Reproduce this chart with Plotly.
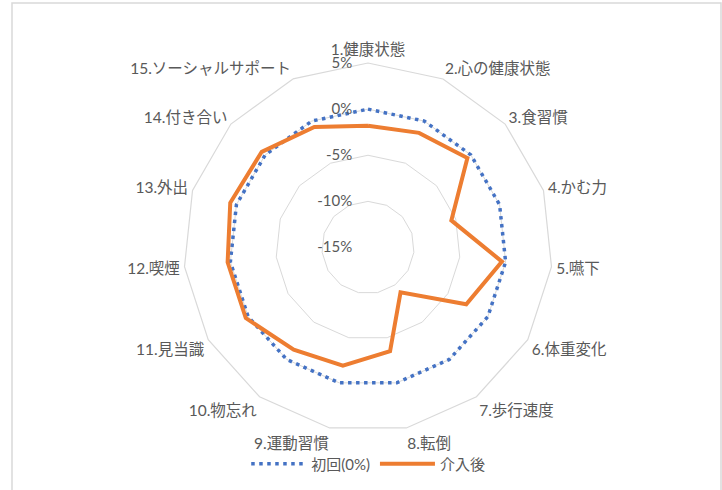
import plotly.graph_objects as go

# Survey items (15 axes of the radar)
categories = [
    "1.健康状態", "2.心の健康状態", "3.食習慣", "4.かむ力", "5.嚥下",
    "6.体重変化", "7.歩行速度", "8.転倒", "9.運動習慣", "10.物忘れ",
    "11.見当識", "12.喫煙", "13.外出", "14.付き合い", "15.ソーシャルサポート",
]
# Change from baseline, in percent
baseline = [0, 0, 0, 0, 0, 0, 0, 0, 0, 0, 0, 0, 0, 0, 0]
after = [-1.8, -1.4, -0.5, -5.5, -0.4, -2.7, -9.0, -3.5, -1.9, -1.3,
         0.3, 0.3, 0.7, 0.5, -0.7]
radial_ticks = [-15, -10, -5, 0, 5]
radial_ticktext = ["-15%", "-10%", "-5%", "0%", "5%"]
series_names = ["初回(0%)", "介入後"]

W, H = 722, 490
cx, cy, R = 368, 247.5, 184.5

FONT = "Lato, 'Noto Sans CJK JP', sans-serif"
GREY_TEXT = "#595959"
GRID = "#d9d9d9"


def closed(vals):
    return list(vals) + [vals[0]]


fig = go.Figure()
fig.add_trace(go.Scatterpolar(
    r=closed(baseline), theta=closed(categories), mode="lines",
    name=series_names[0],
    line=dict(color="#4472C4", width=3.5, dash="3.5px,4.5px"),
    hoverinfo="skip",
))
fig.add_trace(go.Scatterpolar(
    r=closed(after), theta=closed(categories), mode="lines",
    name=series_names[1],
    line=dict(color="#ED7D31", width=4),
    hoverinfo="skip",
))

fig.update_layout(
    width=W, height=H,
    margin=dict(l=0, r=0, t=0, b=0),
    paper_bgcolor="white",
    font=dict(family=FONT, color=GREY_TEXT, size=15),
    polar=dict(
        domain=dict(x=[(cx - R) / W, (cx + R) / W],
                    y=[1 - (cy + R) / H, 1 - (cy - R) / H]),
        gridshape="linear",
        bgcolor="white",
        radialaxis=dict(
            range=[-15, 5], tickvals=radial_ticks, ticktext=radial_ticktext,
            angle=90, tickangle=90, side="counterclockwise",
            showline=False, ticks="outside", ticklen=10,
            tickcolor="rgba(0,0,0,0)",
            gridcolor=GRID, gridwidth=1.2,
            tickfont=dict(size=15, color=GREY_TEXT, family=FONT),
        ),
        angularaxis=dict(
            direction="clockwise", rotation=90,
            showgrid=False, ticks="outside", ticklen=1,
            tickcolor="rgba(0,0,0,0)",
            showline=True, linecolor=GRID, linewidth=1.2,
            tickfont=dict(size=15.5, color=GREY_TEXT, family=FONT),
        ),
    ),
    showlegend=True,
    legend=dict(
        orientation="h", x=0.51, xanchor="center",
        y=1 - 464 / H, yanchor="middle",
        bgcolor="rgba(0,0,0,0)",
        font=dict(size=15, color=GREY_TEXT, family=FONT),
        itemwidth=55,
    ),
    shapes=[dict(
        type="rect", xref="paper", yref="paper",
        x0=12 / W, x1=721 / W, y0=-0.02, y1=1 - 3 / H,
        line=dict(color=GRID, width=1.5), fillcolor="rgba(0,0,0,0)",
    )],
)

fig.write_html("out.html")
